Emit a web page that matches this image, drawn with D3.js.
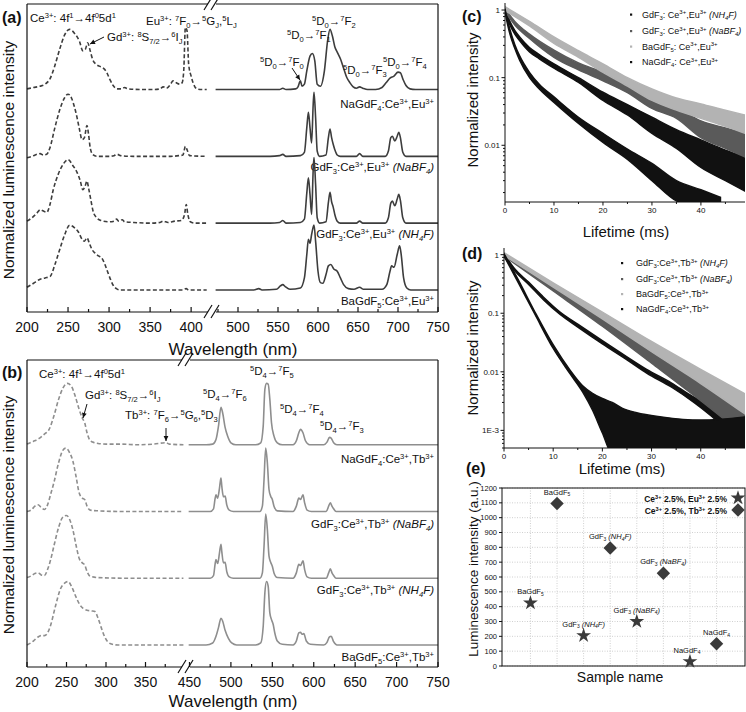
<!DOCTYPE html>
<html><head><meta charset="utf-8">
<script src="https://cdn.jsdelivr.net/npm/d3@7"></script>
<style>html,body{margin:0;padding:0;background:#fff}svg{display:block}</style>
</head><body>
<script>
// ---------------- DATA ----------------
// (a) Eu-doped: excitation (dashed) and emission (solid), [wavelength nm, normalized intensity]
const exEu_NaGdF4 = [[200,0.03],[208,0.05],[216,0.07],[222,0.1],[228,0.18],[234,0.38],[240,0.63],[246,0.84],[252,0.92],[258,0.86],[264,0.74],[268,0.6],[271,0.62],[274,0.72],[277,0.6],[280,0.47],[284,0.4],[288,0.37],[293,0.34],[297,0.28],[301,0.17],[305,0.08],[310,0.03],[315,0.03],[319,0.05],[323,0.03],[340,0.02],[355,0.02],[362,0.03],[366,0.06],[370,0.04],[375,0.1],[378,0.15],[382,0.12],[386,0.1],[389,0.12],[391,0.3],[393,0.95],[395,0.9],[397,0.4],[400,0.22],[403,0.1],[407,0.03],[413,0.02],[419,0.02]];
const emEu_NaGdF4 = [[472,0.02],[520,0.02],[552,0.02],[556,0.04],[560,0.02],[572,0.03],[575,0.06],[578,0.15],[580,0.07],[583,0.1],[586,0.3],[590,0.52],[593,0.56],[596,0.45],[599,0.1],[603,0.07],[608,0.3],[612,0.75],[615,0.92],[618,0.82],[621,0.66],[624,0.58],[628,0.48],[632,0.34],[636,0.2],[640,0.12],[644,0.06],[648,0.04],[652,0.06],[656,0.04],[662,0.02],[672,0.02],[680,0.05],[685,0.12],[690,0.19],[695,0.22],[700,0.28],[703,0.27],[706,0.18],[710,0.08],[715,0.03],[722,0.02],[750,0.02]];
const exEu_NaBF4 = [[200,0.0],[206,0.02],[212,0.05],[216,0.06],[220,0.04],[224,0.05],[228,0.15],[234,0.45],[240,0.72],[246,0.9],[250,0.95],[254,0.9],[258,0.75],[261,0.6],[264,0.42],[267,0.27],[270,0.3],[273,0.48],[275,0.35],[277,0.15],[280,0.05],[285,0.02],[300,0.02],[306,0.03],[310,0.05],[314,0.03],[330,0.02],[360,0.02],[375,0.02],[385,0.03],[390,0.04],[393,0.17],[395,0.12],[398,0.03],[419,0.02]];
const emEu_NaBF4 = [[472,0.02],[540,0.02],[552,0.03],[556,0.05],[560,0.02],[578,0.03],[583,0.08],[586,0.45],[588,0.68],[590,0.45],[592,0.22],[594,0.8],[595,0.98],[597,0.6],[599,0.1],[602,0.02],[610,0.04],[613,0.3],[615,0.43],[617,0.3],[619,0.2],[621,0.12],[624,0.04],[628,0.02],[648,0.02],[652,0.06],[656,0.02],[684,0.02],[688,0.1],[691,0.3],[693,0.32],[696,0.25],[699,0.32],[701,0.38],[703,0.3],[706,0.08],[710,0.02],[750,0.02]];
const exEu_NH4F = [[200,0.05],[206,0.1],[212,0.17],[216,0.22],[220,0.2],[224,0.18],[228,0.3],[232,0.52],[238,0.75],[244,0.9],[250,0.97],[256,0.88],[261,0.78],[265,0.65],[268,0.52],[271,0.58],[273,0.65],[275,0.55],[277,0.42],[281,0.18],[285,0.1],[290,0.06],[300,0.04],[306,0.05],[309,0.08],[312,0.05],[316,0.07],[319,0.04],[330,0.03],[350,0.02],[362,0.03],[366,0.05],[372,0.03],[380,0.05],[388,0.06],[392,0.15],[394,0.3],[396,0.15],[399,0.04],[405,0.02],[419,0.02]];
const emEu_NH4F = [[472,0.02],[540,0.02],[552,0.03],[556,0.06],[560,0.02],[578,0.03],[583,0.08],[586,0.47],[588,0.7],[590,0.45],[592,0.15],[594,0.82],[595,1.0],[597,0.6],[599,0.1],[602,0.02],[610,0.04],[613,0.33],[615,0.48],[617,0.34],[619,0.26],[621,0.15],[624,0.05],[628,0.02],[648,0.02],[652,0.05],[656,0.02],[684,0.02],[688,0.1],[691,0.32],[693,0.35],[696,0.28],[699,0.38],[701,0.45],[703,0.36],[706,0.1],[710,0.02],[750,0.02]];
const exEu_BaGdF5 = [[200,0.06],[208,0.12],[216,0.18],[222,0.2],[228,0.22],[234,0.4],[240,0.63],[246,0.85],[252,0.99],[258,0.95],[263,0.88],[267,0.78],[270,0.75],[273,0.8],[276,0.72],[279,0.63],[283,0.57],[287,0.53],[291,0.5],[295,0.4],[298,0.3],[302,0.17],[305,0.09],[309,0.04],[313,0.02],[350,0.02],[390,0.02],[394,0.04],[397,0.02],[419,0.02]];
const emEu_BaGdF5 = [[472,0.02],[520,0.02],[526,0.04],[530,0.02],[548,0.03],[553,0.08],[556,0.1],[559,0.07],[565,0.03],[578,0.05],[583,0.2],[586,0.55],[588,0.78],[590,0.72],[592,0.85],[595,0.99],[597,0.75],[600,0.3],[603,0.13],[606,0.12],[610,0.25],[613,0.38],[616,0.4],[620,0.33],[624,0.3],[628,0.2],[632,0.1],[638,0.04],[645,0.03],[652,0.06],[657,0.03],[680,0.03],[686,0.1],[690,0.3],[692,0.38],[695,0.36],[699,0.55],[702,0.68],[704,0.55],[707,0.2],[711,0.05],[716,0.02],[750,0.02]];

// (b) Tb-doped
const exTb_NaGdF4 = [[200,0.03],[208,0.07],[216,0.12],[222,0.18],[228,0.25],[234,0.45],[240,0.7],[246,0.88],[251,0.94],[256,0.9],[261,0.75],[266,0.55],[270,0.42],[273,0.35],[276,0.2],[279,0.1],[283,0.06],[290,0.04],[300,0.03],[320,0.03],[340,0.02],[360,0.03],[376,0.05],[380,0.03],[398,0.02]];
const emTb_NaGdF4 = [[449,0.02],[470,0.02],[478,0.03],[482,0.1],[485,0.3],[488,0.58],[490,0.5],[493,0.28],[496,0.15],[500,0.05],[506,0.02],[530,0.02],[536,0.05],[539,0.3],[541,0.85],[543,0.94],[545,0.93],[547,0.7],[549,0.35],[552,0.15],[556,0.05],[562,0.02],[575,0.02],[579,0.08],[582,0.2],[584,0.25],[587,0.2],[590,0.08],[595,0.02],[612,0.02],[616,0.06],[619,0.13],[621,0.12],[624,0.05],[628,0.02],[750,0.02]];
const exTb_NaBF4 = [[200,0.02],[206,0.05],[210,0.1],[214,0.12],[218,0.08],[222,0.05],[226,0.12],[230,0.28],[234,0.45],[240,0.75],[245,0.93],[249,0.97],[254,0.9],[258,0.78],[262,0.55],[266,0.3],[270,0.22],[273,0.2],[276,0.1],[280,0.04],[290,0.03],[320,0.02],[360,0.02],[398,0.02]];
const emTb_NaBF4 = [[449,0.02],[475,0.02],[479,0.06],[481,0.22],[482,0.27],[484,0.22],[486,0.35],[487,0.45],[488,0.52],[489,0.4],[491,0.24],[493,0.25],[495,0.12],[498,0.04],[503,0.02],[535,0.02],[538,0.1],[540,0.5],[542,0.97],[544,0.75],[546,0.35],[548,0.25],[550,0.2],[552,0.1],[556,0.03],[575,0.02],[579,0.1],[582,0.22],[584,0.2],[587,0.27],[589,0.15],[592,0.04],[597,0.02],[615,0.02],[618,0.1],[620,0.15],[622,0.1],[624,0.06],[627,0.02],[750,0.02]];
const exTb_NH4F = [[200,0.03],[206,0.06],[210,0.09],[214,0.1],[218,0.07],[222,0.06],[226,0.15],[230,0.3],[234,0.5],[240,0.78],[245,0.93],[250,0.96],[254,0.9],[258,0.75],[262,0.52],[266,0.32],[270,0.25],[273,0.22],[276,0.12],[280,0.05],[290,0.03],[330,0.02],[398,0.02]];
const emTb_NH4F = [[449,0.02],[475,0.02],[479,0.06],[481,0.24],[482,0.3],[484,0.24],[486,0.38],[487,0.47],[488,0.53],[489,0.42],[491,0.25],[493,0.26],[495,0.12],[498,0.04],[503,0.02],[535,0.02],[538,0.1],[540,0.5],[542,0.98],[544,0.75],[546,0.35],[548,0.26],[550,0.2],[552,0.1],[556,0.03],[575,0.02],[579,0.1],[582,0.23],[584,0.21],[587,0.28],[589,0.15],[592,0.04],[597,0.02],[615,0.02],[618,0.1],[620,0.16],[622,0.1],[624,0.06],[627,0.02],[750,0.02]];
const exTb_BaGdF5 = [[200,0.02],[206,0.06],[210,0.1],[214,0.14],[218,0.16],[222,0.16],[226,0.2],[230,0.32],[236,0.6],[242,0.85],[248,0.95],[252,0.97],[257,0.88],[262,0.74],[267,0.62],[271,0.57],[276,0.54],[282,0.53],[286,0.52],[290,0.42],[294,0.28],[298,0.15],[302,0.07],[308,0.03],[315,0.02],[398,0.02]];
const emTb_BaGdF5 = [[449,0.02],[470,0.02],[478,0.05],[482,0.15],[485,0.28],[488,0.42],[490,0.38],[493,0.24],[497,0.12],[501,0.05],[507,0.02],[530,0.02],[536,0.05],[539,0.3],[541,0.8],[543,0.97],[545,0.9],[547,0.5],[549,0.4],[551,0.33],[553,0.2],[556,0.08],[562,0.03],[575,0.02],[579,0.08],[582,0.2],[584,0.21],[586,0.18],[588,0.19],[591,0.08],[596,0.03],[612,0.02],[616,0.06],[619,0.14],[621,0.15],[624,0.07],[628,0.02],[750,0.02]];

// tick values for the broken wavelength axes
const ticksA_major = [200,250,300,350,400,500,550,600,650,700,750];
const ticksA_minor = [225,275,325,375,475,525,575,625,675,725];
const ticksB_major = [200,250,300,350,450,500,550,600,650,700,750];
const ticksB_minor = [225,275,325,375,475,525,575,625,675,725];

// (c) Eu decays: [time ms, lower envelope, upper envelope]
const decC_NH4F = [[0,0.95,1.05],[1,0.6,0.68],[2,0.44,0.5],[3,0.35,0.4],[5,0.24,0.28],[7,0.19,0.22],[10,0.138,0.16],[15,0.085,0.1],[20,0.046,0.061],[25,0.028,0.04],[30,0.015,0.026],[35,0.009,0.017],[40,0.0047,0.012],[45,0.003,0.0085],[49,0.0021,0.0067]];
const decC_NaBF4 = [[0,0.95,1.05],[2,0.6,0.68],[5,0.38,0.44],[10,0.2,0.255],[15,0.13,0.165],[20,0.09,0.12],[25,0.06,0.08],[30,0.035,0.05],[35,0.025,0.036],[40,0.013,0.023],[45,0.009,0.018],[49,0.0067,0.015]];
const decC_BaGdF5 = [[0,0.98,1.12],[5,0.58,0.68],[10,0.32,0.4],[15,0.2,0.25],[20,0.12,0.16],[25,0.075,0.1],[30,0.046,0.068],[35,0.033,0.05],[40,0.025,0.041],[45,0.019,0.033],[49,0.015,0.028]];
const decC_NaGdF4 = [[0,0.93,1.05],[0.5,0.62,0.72],[1,0.44,0.52],[2,0.27,0.31],[3,0.18,0.21],[5,0.1,0.12],[7,0.068,0.08],[10,0.043,0.052],[15,0.021,0.026],[20,0.011,0.015],[25,0.0062,0.0088],[30,0.003,0.0054],[35,0.0015,0.003],[40,0.0012,0.0022],[44,0.0012,0.0017]];

// (d) Tb decays
const decD_NH4F = [[0,0.95,1.05],[2,0.55,0.6],[5,0.31,0.34],[8,0.17,0.19],[11.4,0.095,0.105],[15,0.058,0.065],[20,0.03,0.034],[25,0.016,0.018],[29,0.0095,0.011],[34,0.0055,0.0065],[38.6,0.003,0.0037],[42,0.0018,0.0028],[45,0.0011,0.0025],[49,0.0008,0.0025]];
const decD_NaBF4 = [[0,0.95,1.05],[10,0.24,0.29],[20,0.06,0.085],[30,0.014,0.024],[40,0.0032,0.0075],[49,0.0008,0.0026]];
const decD_BaGdF5 = [[0,0.97,1.08],[10,0.28,0.33],[20,0.08,0.105],[30,0.022,0.033],[40,0.0063,0.011],[49,0.0019,0.0042]];
const decD_NaGdF4 = [[0,0.95,1.05],[3,0.32,0.36],[6.3,0.095,0.105],[10,0.025,0.029],[13.4,0.0093,0.0108],[16,0.0045,0.0058],[18,0.0022,0.0043],[20,0.0009,0.0035],[22,0.0004,0.003],[24,0.0004,0.0024],[27,0.0004,0.002],[32,0.0004,0.0017],[40,0.0004,0.0015],[49,0.0004,0.0017]];
const decayTicks = [0,10,20,30,40];
const decayMinor = [5,15,25,35,45];

// (e) luminescence intensities
const eSlots = ["BaGdF5-Eu","BaGdF5-Tb","GdF3N-Eu","GdF3N-Tb","GdF3B-Eu","GdF3B-Tb","NaGdF4-Eu","NaGdF4-Tb"];
const eEuSlots = ["BaGdF5-Eu","GdF3N-Eu","GdF3B-Eu","NaGdF4-Eu"];
const eTbSlots = ["BaGdF5-Tb","GdF3N-Tb","GdF3B-Tb","NaGdF4-Tb"];
const eEuValues = [425, 205, 300, 30];
const eTbValues = [1095, 795, 625, 150];
const eNames = ["BaGdF_{5}", "GdF_{3} <i>(NH_{4}F)</i>", "GdF_{3} <i>(NaBF_{4})</i>", "NaGdF_{4}"];
const eTicks = d3.range(0, 1201, 100);

// ---------------- DRAW ----------------
const FONT = "'Liberation Sans', Arial, Helvetica, sans-serif";
const svg = d3.select("body").append("svg").attr("width",746).attr("height",712)
  .style("font-family", FONT);

function rich(g, str, x, y, size, opts={}) {
  const t = g.append("text").attr("x",x).attr("y",y).attr("font-size",size)
    .attr("text-anchor", opts.anchor||"start").attr("fill", opts.fill||"#111");
  if (opts.weight) t.attr("font-weight", opts.weight);
  if (opts.rotate) t.attr("transform", `rotate(${opts.rotate},${x},${y})`);
  const toks = str.split(/(\^\{[^}]*\}|_\{[^}]*\}|<i>|<\/i>)/).filter(s=>s!=="");
  let it=false, cur=0;
  toks.forEach(tok=>{
    if (tok==="<i>"){it=true;return;}
    if (tok==="</i>"){it=false;return;}
    let sh=0, fs=size, txt=tok;
    if (tok.startsWith("^{")){sh=-0.38*size; fs=size*0.66; txt=tok.slice(2,-1);}
    else if (tok.startsWith("_{")){sh=0.25*size; fs=size*0.66; txt=tok.slice(2,-1);}
    const ts = t.append("tspan").attr("dy", sh-cur).attr("font-size", fs).text(txt);
    if (it) ts.attr("font-style","italic");
    cur = sh;
  });
  return t;
}

function arrow(g, x1,y1,x2,y2){
  g.append("line").attr("x1",x1).attr("y1",y1).attr("x2",x2).attr("y2",y2)
    .attr("stroke","#111").attr("stroke-width",1);
  const a = Math.atan2(y2-y1,x2-x1), L=5, w=2.4;
  const p = [[x2,y2],[x2-L*Math.cos(a)+w*Math.sin(a), y2-L*Math.sin(a)-w*Math.cos(a)],
             [x2-L*Math.cos(a)-w*Math.sin(a), y2-L*Math.sin(a)+w*Math.cos(a)]];
  g.append("path").attr("d","M"+p.join("L")+"Z").attr("fill","#111");
}

function spectraPanel(cfg){
  const g = svg.append("g");
  const {x, y, curves, color, top, bottom, left, right, brk, majors, minors} = cfg;
  const line = d3.line().x(d=>x(d[0])).y(d=>y(d[1])).curve(d3.curveMonotoneX);
  curves.forEach(c=>{
    g.append("path").attr("d", line(c.ex.map(d=>[d[0], d[1]+c.off])))
      .attr("fill","none").attr("stroke",color).attr("stroke-width",1.6).attr("stroke-dasharray","4,2.4");
    g.append("path").attr("d", line(c.em.map(d=>[d[0], d[1]+c.off])))
      .attr("fill","none").attr("stroke",color).attr("stroke-width",1.6);
    rich(g, c.label, right-4, c.ly, 11.5, {anchor:"end"});
  });
  // frame
  const st = {stroke:"#111", "stroke-width":1.2};
  const ln = (x1,y1,x2,y2)=>{const l=g.append("line").attr("x1",x1).attr("y1",y1).attr("x2",x2).attr("y2",y2); Object.entries(st).forEach(([k,v])=>l.attr(k,v));};
  ln(left,top,left,bottom); ln(right,top,right,bottom);
  ln(left,top,brk-4,top); ln(brk+4,top,right,top);
  ln(left,bottom,brk-4,bottom); ln(brk+4,bottom,right,bottom);
  [top,bottom].forEach(yy=>{
    [-4,3].forEach(o=>{
      g.append("line").attr("x1",brk+o-4).attr("y1",yy+6).attr("x2",brk+o+4).attr("y2",yy-7)
        .attr("stroke","#111").attr("stroke-width",1.2);
    });
  });
  majors.forEach(v=>{ ln(x(v),bottom,x(v),bottom-5);
    g.append("text").attr("x",x(v)).attr("y",bottom+20).attr("text-anchor","middle")
      .attr("font-size",14).attr("fill","#111").text(v); });
  minors.forEach(v=>ln(x(v),bottom,x(v),bottom-3));
  g.append("text").attr("x",233).attr("y",bottom+cfg.titleDy).attr("text-anchor","middle")
    .attr("font-size",17).attr("fill","#111").text("Wavelength (nm)");
  g.append("text").attr("transform",`translate(14,${cfg.ylabelY}) rotate(-90)`).attr("text-anchor","middle")
    .attr("font-size",15.5).attr("fill","#111").text("Normalized luminescence intensity");
  return g;
}

// Panel (a)
const xA = d3.scaleLinear().domain([200,423,470,750]).range([27,210,214,438]);
const yA = d3.scaleLinear().domain([-0.31,4.3]).range([312,4]);
const gA = spectraPanel({x:xA, y:yA, color:"#3d3d3d", top:4, bottom:312, left:27, right:438, brk:212,
  majors:ticksA_major, minors:ticksA_minor, titleDy:43, ylabelY:160,
  curves:[
    {ex:exEu_NaGdF4, em:emEu_NaGdF4, off:3, ly:108, label:"NaGdF_{4}:Ce^{3+},Eu^{3+}"},
    {ex:exEu_NaBF4, em:emEu_NaBF4, off:2, ly:171, label:"GdF_{3}:Ce^{3+},Eu^{3+} <i>(NaBF_{4})</i>"},
    {ex:exEu_NH4F, em:emEu_NH4F, off:1, ly:238, label:"GdF_{3}:Ce^{3+},Eu^{3+} <i>(NH_{4}F)</i>"},
    {ex:exEu_BaGdF5, em:emEu_BaGdF5, off:0, ly:305, label:"BaGdF_{5}:Ce^{3+},Eu^{3+}"}]});
rich(gA, "(a)", 2, 23, 16, {weight:"bold"});
rich(gA, "Ce^{3+}: 4f^{1}→4f^{0}5d^{1}", 30, 22, 11.5);
rich(gA, "Gd^{3+}: ^{8}S_{7/2}→^{6}I_{J}", 107, 41, 11.5);
arrow(gA, 104,37, 90,44);
rich(gA, "Eu^{3+}: ^{7}F_{0}→^{5}G_{J},^{5}L_{J}", 146, 25, 11.5);
rich(gA, "^{5}D_{0}→^{7}F_{2}", 312, 25, 11.5);
rich(gA, "^{5}D_{0}→^{7}F_{1}", 287, 39, 11.5);
rich(gA, "^{5}D_{0}→^{7}F_{0}", 260, 66, 11.5);
arrow(gA, 292,68, 300,80);
rich(gA, "^{5}D_{0}→^{7}F_{3}", 343, 74, 11.5);
rich(gA, "^{5}D_{0}→^{7}F_{4}", 383, 66, 11.5);

// Panel (b)
const xB = d3.scaleLinear().domain([200,400,447,750]).range([27,185,187,438]);
const yB = d3.scaleLinear().domain([-0.31,4.29]).range([667,360]);
const gB = spectraPanel({x:xB, y:yB, color:"#8e8e8e", top:360, bottom:667, left:27, right:438, brk:186,
  majors:ticksB_major, minors:ticksB_minor, titleDy:40, ylabelY:515,
  curves:[
    {ex:exTb_NaGdF4, em:emTb_NaGdF4, off:3, ly:463, label:"NaGdF_{4}:Ce^{3+},Tb^{3+}"},
    {ex:exTb_NaBF4, em:emTb_NaBF4, off:2, ly:528, label:"GdF_{3}:Ce^{3+},Tb^{3+} <i>(NaBF_{4})</i>"},
    {ex:exTb_NH4F, em:emTb_NH4F, off:1, ly:594, label:"GdF_{3}:Ce^{3+},Tb^{3+} <i>(NH_{4}F)</i>"},
    {ex:exTb_BaGdF5, em:emTb_BaGdF5, off:0, ly:661, label:"BaGdF_{5}:Ce^{3+},Tb^{3+}"}]});
rich(gB, "(b)", 2, 378, 16, {weight:"bold"});
rich(gB, "Ce^{3+}: 4f^{1}→4f^{0}5d^{1}", 39, 378, 11.5);
rich(gB, "Gd^{3+}: ^{8}S_{7/2}→^{6}I_{J}", 85, 399, 11.5);
arrow(gB, 87,404, 83,418);
rich(gB, "Tb^{3+}: ^{7}F_{6}→^{5}G_{6},^{5}D_{3}", 125, 419, 11.5);
arrow(gB, 166,428, 166,441);
rich(gB, "^{5}D_{4}→^{7}F_{6}", 203, 398, 11.5);
rich(gB, "^{5}D_{4}→^{7}F_{5}", 250, 375, 11.5);
rich(gB, "^{5}D_{4}→^{7}F_{4}", 280, 413, 11.5);
rich(gB, "^{5}D_{4}→^{7}F_{3}", 320, 430, 11.5);

// Decay panels
function decayPanel(cfg){
  const g = svg.append("g");
  const {x,y,left,right,top,bottom,series,legend,id} = cfg;
  g.append("clipPath").attr("id",id).append("rect").attr("x",left).attr("y",top)
    .attr("width",right-left).attr("height",bottom-top);
  const area = d3.area().x(d=>x(d[0])).y0(d=>y(d[1])).y1(d=>y(d[2])).curve(d3.curveMonotoneX);
  const pg = g.append("g").attr("clip-path",`url(#${id})`);
  series.forEach(s=>{
    pg.append("path").attr("d",area(s.data)).attr("fill",s.color).attr("stroke",s.color).attr("stroke-width",1.4);
  });
  const ln=(x1,y1,x2,y2)=>g.append("line").attr("x1",x1).attr("y1",y1).attr("x2",x2).attr("y2",y2).attr("stroke","#111").attr("stroke-width",1);
  ln(left,top,left,bottom); ln(left,bottom,right,bottom);
  decayTicks.forEach(v=>{ ln(x(v),bottom,x(v),bottom+3.5);
    g.append("text").attr("x",x(v)).attr("y",bottom+11).attr("text-anchor","middle").attr("font-size",8).attr("fill","#111").text(v);});
  decayMinor.forEach(v=>{ if (x(v)<=right) ln(x(v),bottom,x(v),bottom+2);});
  const [lo,hi]=y.domain();
  for (let e=-4;e<=0;e++) for (let m=1;m<=9;m++){
    const v=m*Math.pow(10,e); if (v<lo||v>hi) continue;
    ln(left-(m===1?3.5:2), y(v), left, y(v));
  }
  cfg.ylabels.forEach(([v,t])=>g.append("text").attr("x",left-5).attr("y",y(v)+3).attr("text-anchor","end")
    .attr("font-size",8).attr("fill","#111").text(t));
  legend.forEach((l,i)=>{
    g.append("rect").attr("x",l.dx-1).attr("y",l.y-4).attr("width",2.2).attr("height",2.2).attr("fill",series[i].color);
    rich(g, l.text, l.tx, l.y, 9);
  });
  return g;
}
const xC = d3.scaleLinear().domain([0,49]).range([505,745]);
const yC = d3.scaleLog().domain([0.00145,1.27]).range([202,3]);
const gC = decayPanel({id:"clipC", x:xC, y:yC, left:505,right:745,top:3,bottom:202,
  series:[{data:decC_NH4F,color:"#111"},{data:decC_NaBF4,color:"#5a5a5a"},{data:decC_BaGdF5,color:"#b3b3b3"},{data:decC_NaGdF4,color:"#111"}],
  ylabels:[[1,"1"],[0.1,"0.1"],[0.01,"0.01"]],
  legend:[{dx:631,tx:642,y:17.5,text:"GdF_{3}: Ce^{3+},Eu^{3+} <i>(NH_{4}F)</i>"},
          {dx:631,tx:642,y:34,text:"GdF_{3}: Ce^{3+},Eu^{3+} <i>(NaBF_{4})</i>"},
          {dx:631,tx:642,y:49.5,text:"BaGdF_{5}: Ce^{3+},Eu^{3+}"},
          {dx:631,tx:642,y:65,text:"NaGdF_{4}: Ce^{3+},Eu^{3+}"}]});
rich(gC,"(c)",462,22,16,{weight:"bold"});
gC.append("text").attr("transform","translate(478,100) rotate(-90)").attr("text-anchor","middle").attr("font-size",15).attr("fill","#111").text("Normalized intensity");
gC.append("text").attr("x",626).attr("y",237).attr("text-anchor","middle").attr("font-size",15).attr("fill","#111").text("Lifetime (ms)");

const xD = d3.scaleLinear().domain([0,49]).range([504,745]);
const yD = d3.scaleLog().domain([0.0005,1.3]).range([448,248]);
const gD = decayPanel({id:"clipD", x:xD, y:yD, left:504,right:745,top:248,bottom:448,
  series:[{data:decD_NH4F,color:"#111"},{data:decD_NaBF4,color:"#5a5a5a"},{data:decD_BaGdF5,color:"#b3b3b3"},{data:decD_NaGdF4,color:"#111"}],
  ylabels:[[1,"1"],[0.1,"0.1"],[0.01,"0.01"],[0.001,"1E-3"]],
  legend:[{dx:622,tx:636,y:266,text:"GdF_{3}:Ce^{3+},Tb^{3+} <i>(NH_{4}F)</i>"},
          {dx:622,tx:636,y:282,text:"GdF_{3}:Ce^{3+},Tb^{3+} <i>(NaBF_{4})</i>"},
          {dx:622,tx:636,y:297,text:"BaGdF_{5}:Ce^{3+},Tb^{3+}"},
          {dx:622,tx:636,y:312,text:"NaGdF_{4}:Ce^{3+},Tb^{3+}"}]});
rich(gD,"(d)",462,259,16,{weight:"bold"});
gD.append("text").attr("transform","translate(478,348) rotate(-90)").attr("text-anchor","middle").attr("font-size",15).attr("fill","#111").text("Normalized intensity");
gD.append("text").attr("x",622).attr("y",474).attr("text-anchor","middle").attr("font-size",15).attr("fill","#111").text("Lifetime (ms)");

// Panel (e)
const gE = svg.append("g");
const xE = d3.scalePoint().domain(eSlots).range([502,745]).padding(1.07);
const yE = d3.scaleLinear().domain([0,1200]).range([666,488]);
eTicks.forEach(v=>{
  gE.append("line").attr("x1",502).attr("x2",745).attr("y1",yE(v)).attr("y2",yE(v))
    .attr("stroke","#c4c4c4").attr("stroke-width",0.8).attr("stroke-dasharray","1,1.5");
});
eSlots.forEach(s=>{
  gE.append("line").attr("x1",xE(s)).attr("x2",xE(s)).attr("y1",488).attr("y2",666)
    .attr("stroke","#c4c4c4").attr("stroke-width",0.8).attr("stroke-dasharray","1,1.5");
});
gE.append("rect").attr("x",502).attr("y",488).attr("width",243).attr("height",178)
  .attr("fill","none").attr("stroke","#111").attr("stroke-width",1);
eTicks.forEach(v=>{
  gE.append("line").attr("x1",499).attr("x2",502).attr("y1",yE(v)).attr("y2",yE(v)).attr("stroke","#111");
  gE.append("text").attr("x",497).attr("y",yE(v)+2.6).attr("text-anchor","end").attr("font-size",7.5).attr("fill","#111").text(v);
});
const starPath = d3.symbol(d3.symbolStar).size(68)();
const diaPath = d3.symbol(d3.symbolSquare).size(90)();
const mk = "#3a3a3a";
eEuSlots.forEach((s,i)=>{
  gE.append("path").attr("d",starPath).attr("transform",`translate(${xE(s)},${yE(eEuValues[i])})`).attr("fill",mk);
  rich(gE, eNames[i], xE(s) - (i===3?3:0), yE(eEuValues[i])-9, 7.5, {anchor:"middle"});
});
eTbSlots.forEach((s,i)=>{
  gE.append("path").attr("d",diaPath).attr("transform",`translate(${xE(s)},${yE(eTbValues[i])}) rotate(45)`).attr("fill",mk);
  rich(gE, eNames[i], xE(s), yE(eTbValues[i])-9, 7.5, {anchor:"middle"});
});
rich(gE, "Ce^{3+} 2.5%, Eu^{3+} 2.5%", 727, 502, 8.5, {anchor:"end", weight:"bold"});
rich(gE, "Ce^{3+} 2.5%, Tb^{3+} 2.5%", 727, 514, 8.5, {anchor:"end", weight:"bold"});
gE.append("path").attr("d",starPath).attr("transform","translate(738,498)").attr("fill",mk);
gE.append("path").attr("d",diaPath).attr("transform","translate(738,510) rotate(45)").attr("fill",mk);
rich(gE,"(e)",466,474,16,{weight:"bold"});
gE.append("text").attr("transform","translate(478,569) rotate(-90)").attr("text-anchor","middle").attr("font-size",13.5).attr("fill","#111").text("Luminescence intensity (a.u.)");
gE.append("text").attr("x",620).attr("y",682).attr("text-anchor","middle").attr("font-size",14).attr("fill","#111").text("Sample name");
</script>
</body></html>
